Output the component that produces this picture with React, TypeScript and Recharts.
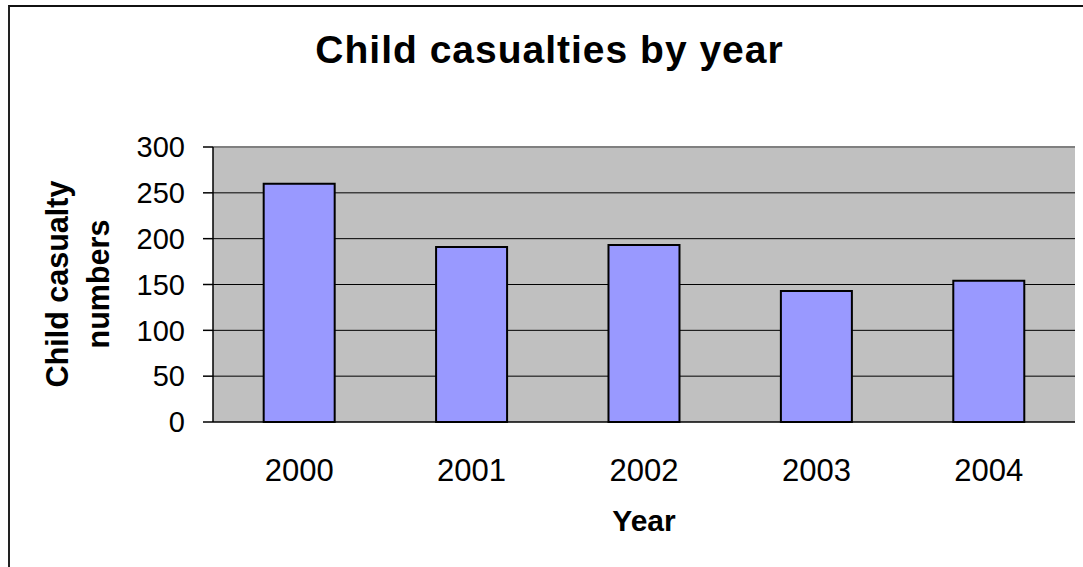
import React from 'react';
import { BarChart, Bar, XAxis, YAxis, CartesianGrid, ReferenceLine } from 'recharts';

const years = ['2000', '2001', '2002', '2003', '2004'];
const casualties = [260, 191, 193, 143, 154];
const yTicks = [0, 50, 100, 150, 200, 250, 300];
const gridValues = [50, 100, 150, 200, 250];
const boundaryTicks = [0, 1, 2, 3, 4, 5];

const data = years.map((year, i) => ({ year, value: casualties[i] }));

const FONT = '"Liberation Sans", Arial, sans-serif';

export default function App() {
  return (
    <div style={{ position: 'absolute', left: 0, top: 0, width: 1083, height: 567, overflow: 'hidden', background: '#fff' }}>
      <div
        style={{
          position: 'absolute',
          left: 8,
          top: 5,
          width: 1100,
          height: 600,
          borderLeft: '2px solid #222',
          borderTop: '2px solid #111',
        }}
      />
      <div style={{ position: 'absolute', left: 0, top: 0 }}>
        <BarChart
          width={1083}
          height={567}
          data={data}
          margin={{ top: 147, right: 8, bottom: 85, left: 0 }}
          barCategoryGap="29.4%"
        >
          <CartesianGrid
            xAxisId="year"
            fill="#C0C0C0"
            stroke="#000"
            strokeWidth={1}
            vertical={false}
            horizontalValues={gridValues}
          />
          <XAxis
            xAxisId="a_bounds"
            type="number"
            domain={[0, 5]}
            ticks={boundaryTicks}
            interval={0}
            tick={false}
            tickSize={10}
            height={1}
            axisLine={{ stroke: '#000', strokeWidth: 1.5 }}
            tickLine={{ stroke: '#000', strokeWidth: 1.5 }}
          />
          <XAxis
            xAxisId="year"
            dataKey="year"
            height={59}
            axisLine={false}
            tickLine={false}
            tickSize={0}
            tickMargin={36}
            tick={{ fill: '#000', fontSize: 31, fontFamily: FONT }}
          />
          <YAxis
            width={213}
            domain={[0, 300]}
            ticks={yTicks}
            interval={0}
            tickSize={10}
            tickMargin={18}
            axisLine={{ stroke: '#000', strokeWidth: 1.5 }}
            tickLine={{ stroke: '#000', strokeWidth: 1.5 }}
            tick={{ fill: '#000', fontSize: 29, fontFamily: FONT }}
          />
          <ReferenceLine y={300} xAxisId="year" stroke="#808080" strokeWidth={2} />
          <ReferenceLine x={5} xAxisId="a_bounds" stroke="#808080" strokeWidth={2} />
          <Bar
            xAxisId="year"
            dataKey="value"
            fill="#9999FF"
            stroke="#000"
            strokeWidth={2}
            isAnimationActive={false}
          />
        </BarChart>
      </div>
      <svg
        width={1083}
        height={567}
        style={{ position: 'absolute', left: 0, top: 0, pointerEvents: 'none' }}
      >
        <text
          x={549.5}
          y={63}
          textAnchor="middle"
          fontFamily={FONT}
          fontWeight="bold"
          fontSize={39}
          letterSpacing={1}
          fill="#000"
        >
          Child casualties by year
        </text>
        <text x={644} y={531} textAnchor="middle" fontFamily={FONT} fontWeight="bold" fontSize={30} fill="#000">
          Year
        </text>
        <text
          transform="translate(68,284) rotate(-90)"
          textAnchor="middle"
          fontFamily={FONT}
          fontWeight="bold"
          fontSize={30.5}
          fill="#000"
        >
          Child casualty
        </text>
        <text
          transform="translate(109,284) rotate(-90)"
          textAnchor="middle"
          fontFamily={FONT}
          fontWeight="bold"
          fontSize={30.5}
          fill="#000"
        >
          numbers
        </text>
      </svg>
    </div>
  );
}
